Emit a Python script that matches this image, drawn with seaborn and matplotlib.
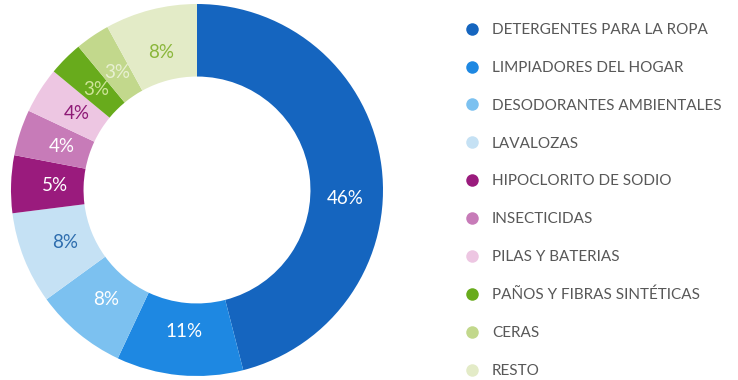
import numpy as np
import matplotlib
matplotlib.use("Agg")
import matplotlib.pyplot as plt
from matplotlib.lines import Line2D
import seaborn as sns

categories = ["DETERGENTES PARA LA ROPA", "LIMPIADORES DEL HOGAR", "DESODORANTES AMBIENTALES",
              "LAVALOZAS", "HIPOCLORITO DE SODIO", "INSECTICIDAS", "PILAS Y BATERIAS",
              "PAÑOS Y FIBRAS SINTÉTICAS", "CERAS", "RESTO"]
values = [46, 11, 8, 8, 5, 4, 4, 3, 3, 8]
colors = ["#1565BF", "#1E88E2", "#7CC1F0", "#C5E1F4", "#9A1B7D",
          "#C77BB8", "#EDC6E2", "#68AB1C", "#C2D88C", "#E3EBC7"]
label_colors = ["white", "white", "white", "#2E6DAE", "white",
                "white", "#8E1A76", "#CFE59A", "#E8F0D2", "#8AB63A"]
# angular nudge (degrees) for label placement, style only
label_angle_shift = [-10.5, 0, 0, 0, 0, 0, 0, 0, 0, 0]

sns.set_theme(style="white")
plt.rcParams["font.family"] = ["Lato", "DejaVu Sans"]

W, H = 738, 380
fig = plt.figure(figsize=(W / 100, H / 100), dpi=100)
cx, cy, R = 197, 190, 186
ax = fig.add_axes([(cx - R) / W, (cy - R) / H, 2 * R / W, 2 * R / H])

palette = sns.color_palette(colors)
wedges, _ = ax.pie(values, colors=palette, startangle=90, counterclock=False,
                   radius=1.0, wedgeprops=dict(width=0.39, linewidth=0))
total = sum(values)
pct_r = 0.765
for w, v, c, sh in zip(wedges, values, label_colors, label_angle_shift):
    ang = np.deg2rad((w.theta1 + w.theta2) / 2 + sh)
    r = pct_r if sh == 0 else 0.80
    ax.text(r * np.cos(ang), r * np.sin(ang), f"{100 * v / total:.0f}%",
            ha="center", va="center", color=c, fontsize=13.5)
ax.set_xlim(-1, 1)
ax.set_ylim(-1, 1)
ax.axis("off")

fs = 11
handles = [Line2D([0], [0], marker="o", linestyle="", markersize=9,
                  markerfacecolor=c, markeredgewidth=0) for c in colors]
fig.legend(handles, categories, loc="upper left", bbox_to_anchor=(458 / W, 1 - 17 / H),
           frameon=False, fontsize=fs, labelspacing=1.56, handletextpad=0.81,
           handlelength=1.0, borderaxespad=0, labelcolor="#585858")

fig.savefig("out.png", dpi=100, facecolor="white")
